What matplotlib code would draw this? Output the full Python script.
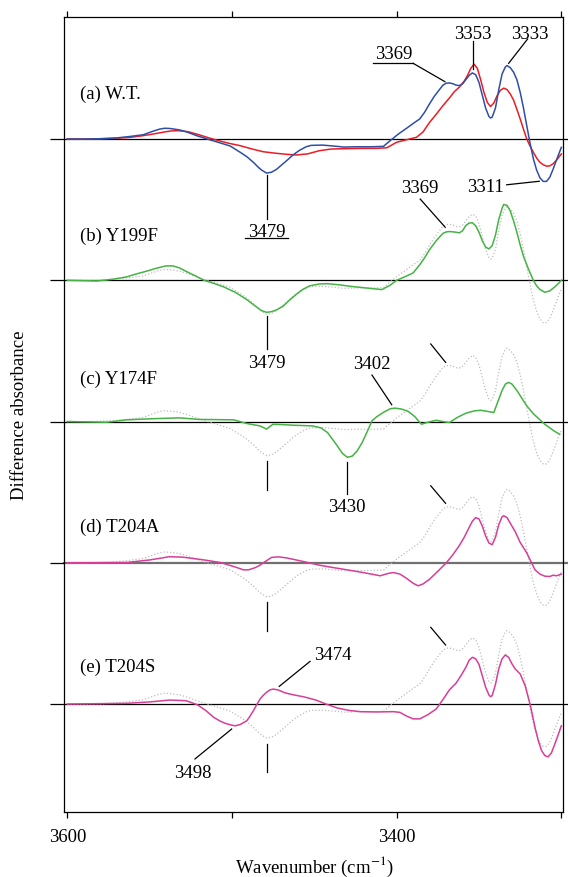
import numpy as np
import matplotlib
matplotlib.use("Agg")
import matplotlib.pyplot as plt

plt.rcParams['font.family'] = ['Liberation Serif', 'DejaVu Serif']
plt.rcParams['mathtext.fontset'] = 'stix'

# (wavenumber cm-1, difference absorbance in arb. units); traces sit 10 units apart
wt_blue_pts = [(3600, 0), (3590, 0), (3580, 0.02), (3570, 0.08), (3562, 0.18), (3554, 0.3), (3548, 0.55),
               (3544, 0.7), (3541, 0.76), (3538, 0.75), (3532, 0.65), (3528, 0.52), (3524, 0.35), (3521, 0.22),
               (3515, 0), (3507, -0.28), (3501, -0.5), (3495, -0.94), (3491, -1.25), (3487, -1.65),
               (3484, -2.0), (3482, -2.2), (3479, -2.41), (3476, -2.35), (3473, -2.15), (3470, -1.85),
               (3466, -1.45), (3463, -1.13), (3459, -0.8), (3455, -0.55), (3452, -0.45), (3445, -0.43),
               (3438, -0.5), (3432, -0.57), (3425, -0.55), (3416, -0.55), (3408, -0.52), (3404, -0.12),
               (3399, 0.35), (3394, 0.76), (3390, 1.1), (3386, 1.42), (3383, 1.9), (3380, 2.5), (3377, 3.05),
               (3374, 3.5), (3372, 3.8), (3370, 3.95), (3368, 3.97), (3366, 3.92), (3364, 3.82), (3362, 3.78),
               (3360, 3.9), (3358, 4.2), (3356, 4.5), (3354, 4.68), (3352, 4.55), (3350, 4.0), (3348, 3.1),
               (3346, 2.2), (3344, 1.6), (3343, 1.49), (3342, 1.55), (3340, 2.2), (3338, 3.5), (3336, 4.6),
               (3334, 5.1), (3333, 5.2), (3331, 5.05), (3329, 4.73), (3327, 4.2), (3325, 3.31), (3323, 2.2),
               (3321, 0.94), (3319, -0.3), (3317, -1.4), (3315, -2.2), (3313, -2.75), (3311, -3.0),
               (3309, -3.0), (3307, -2.7), (3305, -2.13), (3303, -1.5), (3300, -0.59)]

wt_red_pts = [(3600, 0), (3590, 0), (3580, 0.02), (3570, 0.05), (3562, 0.12), (3555, 0.22), (3548, 0.35),
              (3541, 0.5), (3537, 0.57), (3533, 0.59), (3529, 0.55), (3526, 0.5), (3520, 0.3), (3514, 0.08),
              (3508, -0.12), (3502, -0.3), (3495, -0.47), (3488, -0.7), (3481, -0.9), (3474, -1.0),
              (3467, -1.08), (3461, -1.13), (3454, -1.05), (3447, -0.83), (3440, -0.71), (3430, -0.68),
              (3420, -0.66), (3412, -0.66), (3406, -0.62), (3400, -0.23), (3394, -0.05), (3388, 0.12),
              (3384, 0.5), (3380, 1.18), (3376, 1.75), (3372, 2.35), (3368, 2.9), (3365, 3.35), (3362, 3.67),
              (3359, 4.1), (3357, 4.5), (3355, 5.0), (3353, 5.3), (3351, 5.0), (3349, 4.2), (3347, 3.3),
              (3345, 2.6), (3343, 2.3), (3341, 2.55), (3339, 3.07), (3337, 3.45), (3335, 3.6), (3333, 3.5),
              (3331, 3.19), (3329, 2.75), (3327, 2.1), (3325, 1.42), (3323, 0.7), (3321, 0), (3319, -0.5),
              (3317, -0.94), (3315, -1.35), (3313, -1.65), (3311, -1.82), (3309, -1.92), (3307, -1.9),
              (3305, -1.75), (3303, -1.5), (3300, -1.06)]

y199f_pts = [(3600, 0), (3582, -0.05), (3572, 0.08), (3564, 0.24), (3558, 0.45), (3552, 0.64), (3546, 0.85),
             (3540, 1.02), (3536, 1.02), (3532, 0.88), (3528, 0.64), (3522, 0.3), (3517, 0), (3511, -0.22),
             (3505, -0.47), (3498, -0.85), (3491, -1.37), (3485, -1.9), (3482, -2.15), (3479, -2.27),
             (3476, -2.22), (3473, -2.1), (3469, -1.84), (3465, -1.4), (3461, -1.0), (3457, -0.65),
             (3453, -0.4), (3447, -0.26), (3442, -0.24), (3435, -0.32), (3428, -0.43), (3418, -0.55),
             (3409, -0.66), (3404, -0.35), (3400, 0), (3395, 0.25), (3390, 0.52), (3386, 1.1), (3383, 1.6),
             (3380, 2.17), (3376, 2.8), (3372, 3.31), (3370, 3.42), (3368, 3.45), (3365, 3.42), (3362, 3.36),
             (3360, 3.5), (3358, 3.88), (3356, 4.05), (3354, 4.07), (3352, 3.85), (3350, 3.4), (3348, 2.8),
             (3346, 2.35), (3344, 2.22), (3342, 2.45), (3340, 3.2), (3338, 4.3), (3336, 5.1), (3335, 5.37),
             (3333, 5.3), (3331, 4.9), (3329, 4.2), (3327, 3.4), (3325, 2.5), (3323, 1.7), (3320, 0.8),
             (3317, 0), (3315, -0.4), (3313, -0.65), (3310, -0.85), (3307, -0.75), (3304, -0.47),
             (3302, -0.25), (3300, 0)]

y174f_pts = [(3600, 0), (3576, -0.05), (3564, 0.12), (3548, 0.2), (3532, 0.26), (3520, 0.15), (3499, 0.12),
             (3491, -0.14), (3483, -0.31), (3481, -0.42), (3479, -0.54), (3477, -0.35), (3475, -0.19),
             (3469, -0.22), (3463, -0.26), (3451, -0.31), (3446, -0.45), (3442, -0.78), (3439, -1.25),
             (3436, -1.73), (3433, -2.25), (3430, -2.53), (3427, -2.45), (3424, -2.08), (3421, -1.5),
             (3418, -0.75), (3415, 0.05), (3412, 0.35), (3408, 0.65), (3404, 0.9), (3401, 0.95), (3397, 0.88),
             (3393, 0.72), (3389, 0.35), (3385, -0.19), (3381, -0.05), (3376, 0.09), (3372, 0.0),
             (3368, -0.07), (3363, 0.3), (3358, 0.59), (3353, 0.75), (3349, 0.8), (3345, 0.72), (3341, 0.64),
             (3338, 1.58), (3336, 2.2), (3334, 2.65), (3332, 2.77), (3330, 2.65), (3327, 2.2), (3324, 1.65),
             (3321, 1.11), (3317, 0.55), (3313, 0.12), (3310, -0.2), (3307, -0.45), (3304, -0.7),
             (3301, -0.9)]

t204a_pts = [(3600, 0), (3564, 0.02), (3550, 0.2), (3538, 0.43), (3530, 0.40), (3518, 0.22), (3507, 0.02),
             (3498, -0.3), (3493, -0.5), (3490, -0.5), (3486, -0.35), (3483, -0.17), (3479, 0.15),
             (3476, 0.38), (3472, 0.42), (3467, 0.35), (3457, 0.1), (3447, -0.17), (3438, -0.35), (3430, -0.5),
             (3420, -0.7), (3410, -0.92), (3405, -0.75), (3402, -0.69), (3398, -0.8), (3394, -1.1),
             (3390, -1.45), (3387, -1.63), (3384, -1.5), (3380, -1.16), (3375, -0.6), (3370, -0.02),
             (3366, 0.55), (3362, 1.21), (3359, 1.8), (3356, 2.5), (3354, 2.95), (3352, 3.2), (3350, 3.1),
             (3348, 2.6), (3346, 1.9), (3344, 1.4), (3342, 1.28), (3340, 1.8), (3338, 2.7), (3336, 3.25),
             (3335, 3.33), (3333, 3.2), (3331, 2.8), (3328, 2.2), (3325, 1.44), (3321, 0.7), (3318, -0.02),
             (3316, -0.5), (3313, -0.8), (3310, -0.95), (3307, -0.97), (3305, -0.88), (3303, -0.92),
             (3300, -0.8)]

t204s_pts = [(3600, 0), (3564, 0.05), (3550, 0.15), (3538, 0.28), (3528, 0.24), (3521, -0.05), (3516, -0.45),
             (3511, -0.95), (3507, -1.22), (3504, -1.37), (3500, -1.5), (3498, -1.54), (3495, -1.45),
             (3491, -1.18), (3489, -0.85), (3487, -0.47), (3485, -0.05), (3483, 0.35), (3481, 0.62),
             (3479, 0.83), (3477, 1.0), (3475, 1.06), (3472, 1.0), (3468, 0.8), (3463, 0.66), (3456, 0.5),
             (3449, 0.28), (3443, 0.0), (3436, -0.28), (3429, -0.45), (3422, -0.54), (3412, -0.56),
             (3402, -0.54), (3398, -0.59), (3394, -0.85), (3390, -1.05), (3386, -1.05), (3381, -0.75),
             (3376, -0.35), (3372, 0.3), (3368, 1.0), (3364, 1.47), (3361, 2.0), (3358, 2.6), (3356, 3.1),
             (3354, 3.31), (3352, 3.2), (3350, 2.8), (3348, 2.0), (3346, 1.2), (3344, 0.65), (3343, 0.52),
             (3342, 0.6), (3340, 1.4), (3338, 2.5), (3336, 3.2), (3334, 3.48), (3332, 3.3), (3330, 2.85),
             (3328, 2.48), (3325, 2.13), (3322, 1.3), (3319, 0), (3316, -1.65), (3314, -2.6), (3312, -3.3),
             (3310, -3.65), (3308, -3.74), (3306, -3.45), (3304, -2.84), (3302, -2.2), (3300, -1.54)]

panel_names = ['(a) W.T.', '(b) Y199F', '(c) Y174F', '(d) T204A', '(e) T204S']
offsets = [0, -10, -20, -30, -40]
xticks = [3600, 3500, 3400, 3300]
xticklabels = ['3600', '', '3400', '']

BLUE = '#2f4fa6'
RED = '#ec1c24'
GREEN = '#45b344'
MAGENTA = '#d63f97'
DOT = '#bdbdbd'
FS = 13.5
LW = 1.1


def xy(pts, off=0):
    a = np.array(pts, dtype=float)
    return a[:, 0], a[:, 1] + off


fig = plt.figure(figsize=(5.68, 8.78), dpi=100)
ax = fig.add_axes([0.1121, 0.0744, 0.8791, 0.9048])
ax.set_xlim(3602.2, 3299)
ax.set_ylim(-47.62, 8.62)

# baselines, slightly past the right frame
for i, off in enumerate(offsets):
    c, w = ('#707070', 1.6) if i == 3 else ('k', 0.9)
    ax.plot([3602.2, 3296], [off, off], color=c, lw=w, clip_on=False, zorder=1)

# W.T. reference drawn dotted behind each mutant
for off in offsets[1:]:
    ax.plot(*xy(wt_blue_pts, off), color=DOT, ls=(0, (1, 1.6)), lw=0.9, zorder=2)

ax.plot(*xy(wt_red_pts), color=RED, lw=LW, zorder=3)
ax.plot(*xy(wt_blue_pts), color=BLUE, lw=LW, zorder=4)
ax.plot(*xy(y199f_pts, offsets[1]), color=GREEN, lw=LW, zorder=3)
ax.plot(*xy(y174f_pts, offsets[2]), color=GREEN, lw=LW, zorder=3)
ax.plot(*xy(t204a_pts, offsets[3]), color=MAGENTA, lw=LW, zorder=3)
ax.plot(*xy(t204s_pts, offsets[4]), color=MAGENTA, lw=LW, zorder=3)

for name, off, dy in zip(panel_names, offsets, [3.38, 3.36, 3.19, 2.74, 2.83]):
    ax.text(3592.3, off + dy, name, ha='left', va='center_baseline', fontsize=FS)


def seg(x0, y0, x1, y1):
    ax.plot([x0, x1], [y0, y1], color='k', lw=0.9, zorder=5)


def lab(x, y, s):
    ax.text(x, y, s, ha='center', va='center_baseline', fontsize=FS)


# (a)
lab(3353.5, 7.63, '3353'); seg(3353.5, 6.96, 3353.5, 4.96)
lab(3319, 7.63, '3333'); seg(3320.5, 7.08, 3332, 5.36)
lab(3402, 6.21, '3369'); seg(3414.4, 5.36, 3390, 5.36); seg(3390, 5.36, 3370.7, 4.06)
lab(3346.4, -3.19, '3311'); seg(3333.2, -3.24, 3313.4, -2.99)
lab(3479, -6.37, '3479'); seg(3492, -7.03, 3466, -7.03); seg(3479, -2.55, 3479, -5.66)
# (b)
lab(3385.7, -3.31, '3369'); seg(3385.7, -4.25, 3370.5, -6.25)
lab(3478.6, -15.7, '3479'); seg(3478.6, -12.51, 3478.6, -14.87)
# (c)
lab(3415, -15.77, '3402'); seg(3415, -16.71, 3403, -18.81)
seg(3379.3, -14.51, 3370.3, -15.81)
seg(3478.6, -22.78, 3478.6, -24.83)
lab(3430, -25.84, '3430'); seg(3430, -22.89, 3430, -25.13)
# (d)
seg(3379.3, -24.55, 3370.3, -25.79)
seg(3478.6, -32.8, 3478.6, -34.85)
# (e)
seg(3379.3, -34.57, 3370.3, -35.82)
lab(3438.5, -36.34, '3474'); seg(3452.6, -36.98, 3471.3, -38.75)
lab(3523.9, -44.72, '3498'); seg(3522.5, -43.89, 3500.2, -41.77)
seg(3478.6, -42.83, 3478.6, -44.83)

ax.set_xticks(xticks)
ax.set_xticklabels(xticklabels, fontsize=FS)
ax.set_yticks(offsets)
ax.set_yticklabels([])
ax.tick_params(axis='x', direction='out', length=4.5, width=0.9, top=True, pad=7)
ax.tick_params(axis='y', direction='out', length=10, width=0.9)
for sp in ax.spines.values():
    sp.set_linewidth(0.9)

fig.text(20 / 568, 1 - 415 / 878, 'Difference absorbance', rotation=90,
         ha='center', va='center', fontsize=FS)
fig.text(314 / 568, 1 - 867 / 878, r'Wavenumber (cm$^{-1}$)', ha='center', va='center', fontsize=FS)

fig.savefig('out.png', dpi=100)
